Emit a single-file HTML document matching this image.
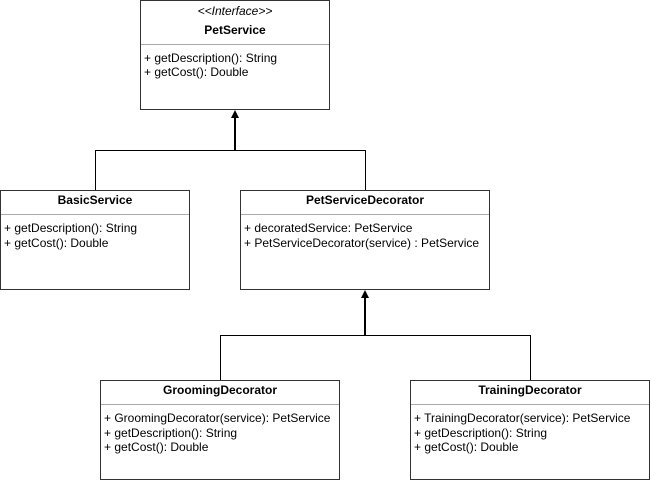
<!DOCTYPE html>
<html><head><style>html,body{margin:0;padding:0;background:#fff;}svg{display:block}</style></head>
<body>
<svg width="651" height="481" viewBox="0 0 651 481" xmlns="http://www.w3.org/2000/svg" font-family="Liberation Sans, sans-serif" font-size="12">
<g fill="#fff" stroke="#333" stroke-width="1">
<rect x="140.5" y="0.5" width="189" height="109"/>
<rect x="0.5" y="190.5" width="189" height="99"/>
<rect x="240.5" y="190.5" width="249" height="99"/>
<rect x="100.5" y="380.5" width="239" height="99"/>
<rect x="410.5" y="380.5" width="239" height="99"/>
</g>
<g stroke="#aaa" stroke-width="1">
<line x1="141" y1="44.5" x2="329" y2="44.5"/>
<line x1="1" y1="214.5" x2="189" y2="214.5"/>
<line x1="241" y1="214.5" x2="489" y2="214.5"/>
<line x1="101" y1="404.5" x2="339" y2="404.5"/>
<line x1="411" y1="404.5" x2="649" y2="404.5"/>
</g>
<g stroke="#000" fill="none">
<line x1="235" y1="116" x2="235" y2="150" stroke-width="2"/>
<polyline points="95.5,190 95.5,150.5 365.5,150.5 365.5,190" stroke-width="1"/>
<line x1="365" y1="296" x2="365" y2="335" stroke-width="2"/>
<polyline points="220.5,380 220.5,335.5 530.5,335.5 530.5,380" stroke-width="1"/>
</g>
<polygon points="235,110 231,118 239,118" fill="#000"/>
<polygon points="365,290 361,298 369,298" fill="#000"/>
<g fill="#000">
<text x="235" y="15" text-anchor="middle" font-style="italic" font-size="12">&lt;&lt;Interface&gt;&gt;</text>
<text x="235" y="34" text-anchor="middle" font-weight="bold">PetService</text>
<text x="144" y="62">+ getDescription(): String</text>
<text x="144" y="76">+ getCost(): Double</text>
<text x="95" y="204" text-anchor="middle" font-weight="bold">BasicService</text>
<text x="4" y="232">+ getDescription(): String</text>
<text x="4" y="247">+ getCost(): Double</text>
<text x="365" y="204" text-anchor="middle" font-weight="bold">PetServiceDecorator</text>
<text x="244" y="232">+ decoratedService: PetService</text>
<text x="244" y="247">+ PetServiceDecorator(service) : PetService</text>
<text x="220" y="394" text-anchor="middle" font-weight="bold">GroomingDecorator</text>
<text x="104" y="422">+ GroomingDecorator(service): PetService</text>
<text x="104" y="437">+ getDescription(): String</text>
<text x="104" y="451">+ getCost(): Double</text>
<text x="530" y="394" text-anchor="middle" font-weight="bold">TrainingDecorator</text>
<text x="414" y="422">+ TrainingDecorator(service): PetService</text>
<text x="414" y="437">+ getDescription(): String</text>
<text x="414" y="451">+ getCost(): Double</text>
</g>
</svg>
</body></html>
